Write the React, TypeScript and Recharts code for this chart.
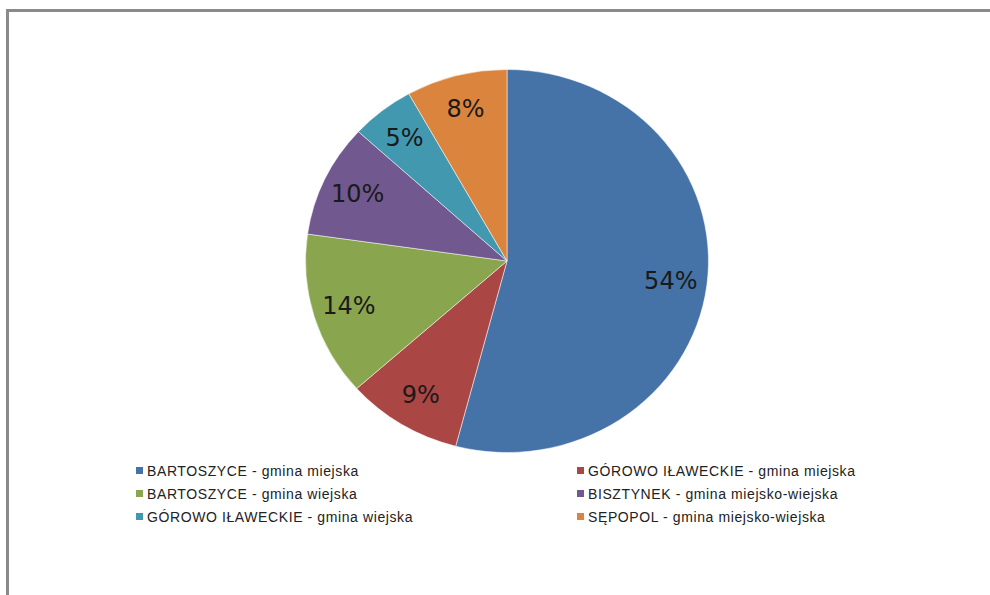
import React from 'react'
import { PieChart, Pie, Cell, Sector, Legend } from 'recharts'

const categories = [
  'BARTOSZYCE - gmina miejska',
  'GÓROWO IŁAWECKIE - gmina miejska',
  'BARTOSZYCE - gmina wiejska',
  'BISZTYNEK - gmina miejsko-wiejska',
  'GÓROWO IŁAWECKIE - gmina wiejska',
  'SĘPOPOL - gmina miejsko-wiejska',
]
const values = [54.1, 9.3, 13.85, 9.55, 5.1, 8.1]
const colors = ['#4572A7', '#AA4643', '#89A54E', '#71588F', '#4198AF', '#DB843D']

const data = categories.map((name, i) => ({ name, value: values[i] }))

const CX = 507
const CY = 261
const R = 191.5
const SX = 1.052 // the original pie is slightly wider than tall
const RAD = Math.PI / 180

const stretched = (props: any) => (
  <g transform={`translate(${CX} ${CY}) scale(${SX} 1) translate(${-CX} ${-CY})`}>
    <Sector {...props} />
  </g>
)

const renderLabel = ({ cx, cy, midAngle, percent }: any) => {
  const r = 157
  const x = cx + r * Math.cos(-midAngle * RAD) * SX
  const y = cy + r * Math.sin(-midAngle * RAD)
  return (
    <text
      x={x}
      y={y}
      textAnchor="middle"
      dominantBaseline="central"
      fill="#1a1a1a"
      fontFamily="DejaVu Sans"
      fontSize={24}
    >
      {Math.round(percent * 100)}%
    </text>
  )
}

const renderLegend = () => (
  <div
    style={{
      display: 'grid',
      gridTemplateColumns: '441px 300px',
      rowGap: 6,
      fontFamily: 'Liberation Sans',
      fontSize: 14,
      letterSpacing: 0.6,
      color: '#222',
    }}
  >
    {categories.map((name, i) => (
      <div key={name} style={{ display: 'flex', alignItems: 'center', height: 17 }}>
        <span
          style={{ width: 7, height: 7, background: colors[i], marginRight: 4, display: 'inline-block' }}
        />
        {name}
      </div>
    ))}
  </div>
)

export default function App() {
  return (
    <div style={{ position: 'absolute', left: 0, top: 0, width: 990, height: 595, background: '#fff', overflow: 'hidden' }}>
      <div
        style={{
          position: 'absolute',
          left: 6,
          top: 9,
          width: 1000,
          height: 600,
          borderLeft: '3px solid #8a8a8a',
          borderTop: '3px solid #8a8a8a',
        }}
      />
      <div style={{ position: 'absolute', left: 0, top: 0 }}>
        <PieChart width={990} height={595} margin={{ top: 0, right: 0, bottom: 0, left: 0 }}>
          <Pie
            data={data}
            dataKey="value"
            nameKey="name"
            cx={CX}
            cy={CY}
            outerRadius={R}
            startAngle={90}
            endAngle={-270}
            stroke="#ffffff"
            strokeWidth={0.5}
            shape={stretched}
            label={renderLabel}
            labelLine={false}
            isAnimationActive={false}
          >
            {data.map((d, i) => (
              <Cell key={d.name} fill={colors[i]} />
            ))}
          </Pie>
          <Legend
            content={renderLegend}
            wrapperStyle={{ position: 'absolute', left: 136, top: 462, width: 760 }}
          />
        </PieChart>
      </div>
    </div>
  )
}
